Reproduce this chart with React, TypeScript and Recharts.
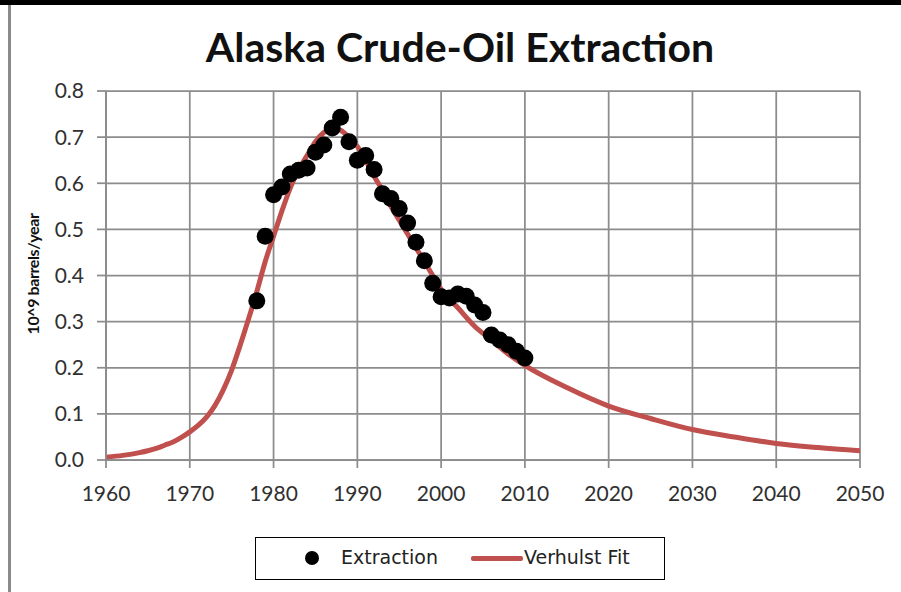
import {
  CartesianGrid,
  ComposedChart,
  Line,
  Scatter,
  XAxis,
  YAxis,
} from "recharts";

// Extraction, 10^9 barrels/year
const EXTRACTION_YEARS = [
  1978, 1979, 1980, 1981, 1982, 1983, 1984, 1985, 1986, 1987, 1988, 1989,
  1990, 1991, 1992, 1993, 1994, 1995, 1996, 1997, 1998, 1999, 2000, 2001,
  2002, 2003, 2004, 2005, 2006, 2007, 2008, 2009, 2010,
];
const EXTRACTION_VALUES = [
  0.345, 0.485, 0.575, 0.592, 0.62, 0.628, 0.633, 0.667, 0.683, 0.72, 0.743,
  0.69, 0.65, 0.66, 0.63, 0.577, 0.567, 0.545, 0.514, 0.472, 0.432, 0.383,
  0.354, 0.351, 0.36, 0.355, 0.336, 0.32, 0.271, 0.26, 0.25, 0.236, 0.221,
];

// Verhulst fit
const FIT_YEARS = [
  1960, 1962, 1964, 1965, 1966, 1967, 1968, 1969, 1970, 1971, 1972, 1973,
  1974, 1975, 1976, 1977, 1978, 1979, 1980, 1981, 1982, 1983, 1984, 1985,
  1986, 1987, 1988, 1989, 1990, 1991, 1992, 1993, 1994, 1995, 1996, 1997,
  1998, 1999, 2000, 2002, 2004, 2006, 2008, 2010, 2015, 2020, 2025, 2030,
  2035, 2040, 2045, 2050,
];
const FIT_VALUES = [
  0.006, 0.01, 0.016, 0.02, 0.025, 0.032, 0.039, 0.049, 0.061, 0.075, 0.093,
  0.118, 0.152, 0.195, 0.248, 0.305, 0.365, 0.43, 0.485, 0.54, 0.59, 0.63,
  0.66, 0.69, 0.71, 0.72, 0.715, 0.7, 0.68, 0.65, 0.615, 0.585, 0.55, 0.52,
  0.49, 0.46, 0.43, 0.4, 0.37, 0.33, 0.29, 0.26, 0.23, 0.205, 0.157, 0.117,
  0.09, 0.066, 0.05, 0.036, 0.027, 0.02,
];

const X_TICKS = [1960, 1970, 1980, 1990, 2000, 2010, 2020, 2030, 2040, 2050];
const Y_TICKS = [0, 0.1, 0.2, 0.3, 0.4, 0.5, 0.6, 0.7, 0.8];

const RED = "#c0504d";
const GRID = "#8c8c8c";
const FONT = "Lato, 'DejaVu Sans', sans-serif";

const extraction = EXTRACTION_YEARS.map((year, i) => ({
  year,
  value: EXTRACTION_VALUES[i],
}));
const fit = FIT_YEARS.map((year, i) => ({ year, fit: FIT_VALUES[i] }));

function Dot(props: any) {
  return <circle cx={props.cx} cy={props.cy} r={8.5} fill="#000" />;
}

export default function App() {
  const tickStyle = { fill: "#303030", fontSize: 21, fontFamily: FONT };

  return (
    <div
      style={{
        position: "fixed",
        left: 0,
        top: 0,
        width: 901,
        height: 592,
        background: "#fff",
        overflow: "hidden",
      }}
    >
      {/* screenshot frame */}
      <div
        style={{
          position: "absolute",
          left: 0,
          top: 0,
          width: 901,
          height: 5,
          background: "#000",
        }}
      />
      <div
        style={{
          position: "absolute",
          left: 8,
          top: 5,
          width: 3,
          height: 587,
          background: "#8a8a8a",
        }}
      />

      <div
        style={{
          position: "absolute",
          left: 0,
          width: 920,
          top: 22,
          textAlign: "center",
          fontFamily: FONT,
          fontWeight: 700,
          fontSize: 41,
          color: "#111",
          whiteSpace: "nowrap",
        }}
      >
        Alaska Crude-Oil Extraction
      </div>

      <div
        style={{
          position: "absolute",
          left: 32,
          top: 274,
          transform: "translate(-50%, -50%) rotate(-90deg)",
          fontFamily: FONT,
          fontWeight: 700,
          fontSize: 16,
          letterSpacing: -0.4,
          color: "#111",
          whiteSpace: "nowrap",
        }}
      >
        10^9 barrels/year
      </div>

      <ComposedChart
        width={901}
        height={592}
        margin={{ top: 91, right: 41, bottom: 92, left: 46 }}
        style={{ position: "absolute", left: 0, top: 0 }}
      >
        <CartesianGrid stroke={GRID} strokeWidth={1.75} />
        <XAxis
          type="number"
          dataKey="year"
          domain={[1960, 2050]}
          ticks={X_TICKS}
          allowDataOverflow
          height={40}
          stroke={GRID}
          strokeWidth={1.75}
          tickSize={8}
          tickMargin={18}
          tick={tickStyle}
        />
        <YAxis
          type="number"
          domain={[0, 0.8]}
          ticks={Y_TICKS}
          width={60}
          stroke={GRID}
          strokeWidth={1.75}
          tickSize={9}
          tickMargin={13}
          tick={tickStyle}
          tickFormatter={(v) => Number(v).toFixed(1)}
        />
        <Line
          data={fit}
          dataKey="fit"
          type="monotone"
          stroke={RED}
          strokeWidth={5}
          dot={false}
          activeDot={false}
          isAnimationActive={false}
        />
        <Scatter
          data={extraction}
          dataKey="value"
          fill="#000"
          shape={Dot}
          isAnimationActive={false}
        />
      </ComposedChart>

      {/* legend */}
      <div
        style={{
          position: "absolute",
          left: 255,
          top: 537,
          width: 410,
          height: 43,
          boxSizing: "border-box",
          border: "1.5px solid #000",
          fontFamily: "'DejaVu Sans', sans-serif",
          fontSize: 19,
          color: "#222",
        }}
      >
        <span
          style={{
            position: "absolute",
            left: 49,
            top: 13,
            width: 14,
            height: 14,
            borderRadius: 7,
            background: "#000",
          }}
        />
        <span style={{ position: "absolute", left: 85, top: 8 }}>
          Extraction
        </span>
        <span
          style={{
            position: "absolute",
            left: 215,
            top: 18,
            width: 52,
            height: 5,
            borderRadius: 2,
            background: RED,
          }}
        />
        <span style={{ position: "absolute", left: 268, top: 8 }}>
          Verhulst Fit
        </span>
      </div>
    </div>
  );
}
